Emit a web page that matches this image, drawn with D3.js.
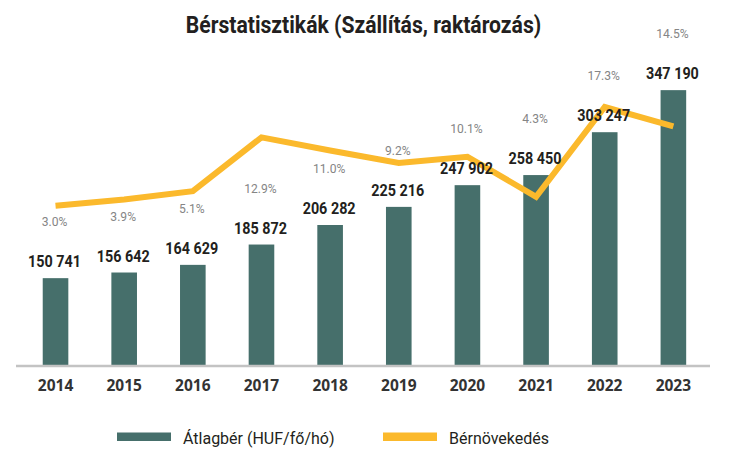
<!DOCTYPE html>
<html>
<head>
  <meta charset="utf-8">
  <script src="https://d3js.org/d3.v7.min.js"></script>
<style>
  body { margin: 0; background: #fff; }
  svg { display: block; }
</style>
</head>
<body>
<script>
  "use strict";

  var years = ["2014", "2015", "2016", "2017", "2018", "2019", "2020", "2021", "2022", "2023"];
  var wages = [150741, 156642, 164629, 185872, 206282, 225216, 247902, 258450, 303247, 347190];
  var growth = [3.0, 3.9, 5.1, 12.9, 11.0, 9.2, 10.1, 4.3, 17.3, 14.5];
  var legendLabels = ["Átlagbér (HUF/fő/hó)", "Bérnövekedés"];

  var width = 750, height = 458;
  var barColor = "#466f6b", lineColor = "#fbb92c";
  var font = "Roboto, 'Open Sans', sans-serif";

  var svg = d3.select("body").append("svg")
      .attr("width", width)
      .attr("height", height);

  // the source uses a condensed face, so squeeze text horizontally
  function place(sel, fx, fy, sx) {
    sel.attr("transform", function (d, i) {
      return "translate(" + fx(d, i) + "," + fy(d, i) + ") scale(" + sx + ",1)";
    });
  }

  // title
  var title = svg.append("text")
      .attr("text-anchor", "middle")
      .style("font-family", font)
      .style("font-size", "23.5px")
      .style("font-weight", "bold")
      .style("fill", "#231f20")
      .text("Bérstatisztikák (Szállítás, raktározás)");
  place(title, function () { return 363.5; }, function () { return 33; }, 0.9);

  var x = d3.scaleBand()
      .domain(years)
      .range([21.2, 707.7])
      .paddingInner(0.627)
      .paddingOuter(0.3135);
  var cx = function (yr) { return x(yr) + x.bandwidth() / 2; };

  // bars don't start from zero in the original
  var y = d3.scaleLinear().domain([60000, 400000]).range([365, 39.6]);
  var y2 = d3.scaleLinear().domain([0, 20]).range([226.4, 88.4]);

  var rows = years.map(function (yr, i) {
    return { year: yr, wage: wages[i], pct: growth[i] };
  });

  svg.selectAll("rect.bar")
      .data(rows)
      .enter()
      .append("rect")
      .attr("class", "bar")
      .attr("x", function (d) { return x(d.year); })
      .attr("y", function (d) { return y(d.wage); })
      .attr("width", x.bandwidth())
      .attr("height", function (d) { return y(60000) - y(d.wage); })
      .style("fill", barColor);

  // baseline
  svg.append("line")
      .attr("x1", 16).attr("x2", 710)
      .attr("y1", 366).attr("y2", 366)
      .style("stroke", "#c3c3c3")
      .style("stroke-width", 2.5);

  // year labels
  svg.selectAll("text.year")
      .data(years)
      .enter()
      .append("text")
      .attr("class", "year")
      .attr("x", function (d) { return cx(d); })
      .attr("y", 390.5)
      .attr("text-anchor", "middle")
      .style("font-family", "'Open Sans', sans-serif")
      .style("font-size", "15.5px")
      .style("font-weight", "bold")
      .style("fill", "#333")
      .text(function (d) { return d; });

  // growth line, drawn under the value labels
  var line = d3.line()
      .x(function (d) { return cx(d.year); })
      .y(function (d) { return y2(d.pct); });

  svg.append("path")
      .datum(rows)
      .attr("d", line)
      .style("fill", "none")
      .style("stroke", lineColor)
      .style("stroke-width", 6)
      .style("stroke-linejoin", "miter");

  var fmt = function (v) { return d3.format(",")(v).replace(",", " "); };

  // wage labels above bars
  var vals = svg.selectAll("text.val")
      .data(rows)
      .enter()
      .append("text")
      .attr("class", "val")
      .attr("text-anchor", "middle")
      .style("font-family", font)
      .style("font-size", "16.5px")
      .style("font-weight", "bold")
      .style("fill", "#231f20")
      .text(function (d) { return fmt(d.wage); });
  place(vals, function (d) { return cx(d.year) - 1; }, function (d) { return y(d.wage) - 10.7; }, 0.87);

  // percentage labels sit a fixed step above the bar tops, as in the source
  var pcts = svg.selectAll("text.pct")
      .data(rows)
      .enter()
      .append("text")
      .attr("class", "pct")
      .attr("text-anchor", "middle")
      .style("font-family", font)
      .style("font-size", "12.5px")
      .style("fill", "#858585")
      .text(function (d) { return d.pct.toFixed(1) + "%"; });
  place(pcts, function (d) { return cx(d.year) - 1; }, function (d) { return y(d.wage) - 52; }, 0.97);

  // legend
  var legend = svg.selectAll("g.legend")
      .data(legendLabels)
      .enter()
      .append("g")
      .attr("class", "legend")
      .attr("transform", function (d, i) { return "translate(" + (117 + i * 266) + ",432.5)"; });

  legend.append("rect")
      .attr("width", 54)
      .attr("height", 8.5)
      .style("fill", function (d, i) { return i === 0 ? barColor : lineColor; });

  var ltext = legend.append("text")
      .style("font-family", font)
      .style("font-size", "16px")
      .style("fill", "#231f20")
      .text(function (d) { return d; });
  place(ltext, function () { return 66; }, function () { return 11; }, 1.0);
</script>
</body>
</html>
